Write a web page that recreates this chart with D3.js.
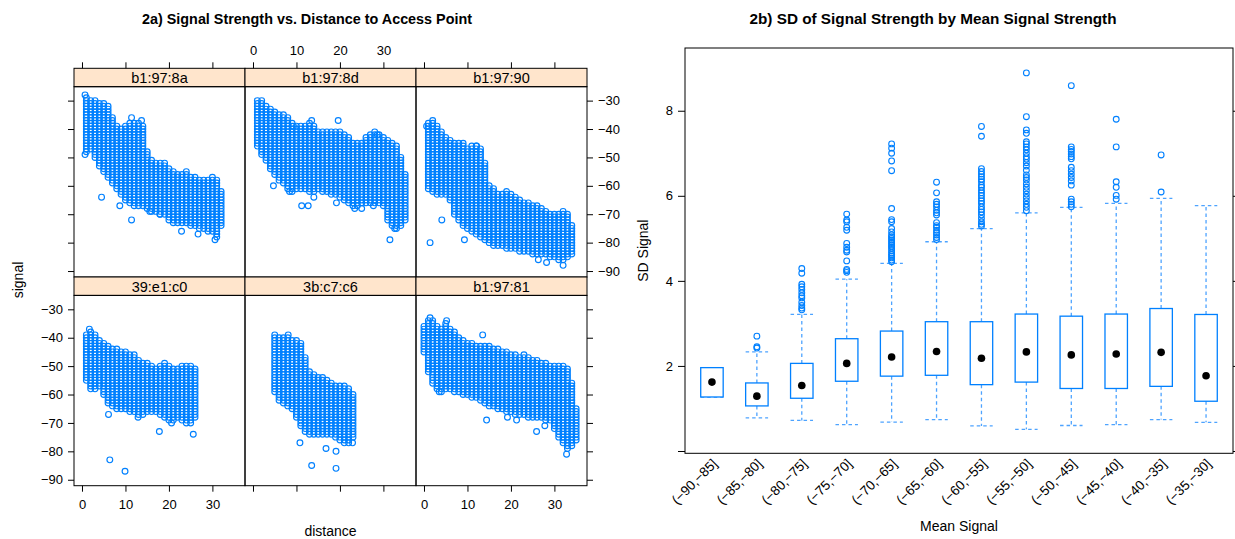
<!DOCTYPE html>
<html>
<head>
<meta charset="utf-8">
<script src="https://cdn.jsdelivr.net/npm/d3@7"></script>
<style>
  body { margin: 0; background: #fff; }
  svg { display: block; }
  text { font-family: "Liberation Sans", Arial, Helvetica, sans-serif; fill: #000; }
</style>
</head>
<body>
<svg id="fig" width="1235" height="539"></svg>
<script>
// ---------- 2a: signal vs distance, one panel per access point ----------
// Each access point: vertical runs of readings [distance, strongest dBm, weakest dBm]
// (signal is recorded in whole dBm) plus isolated readings [distance, dBm].
const macTop = ["b1:97:8a", "b1:97:8d", "b1:97:90"];
const macBottom = ["39:e1:c0", "3b:c7:c6", "b1:97:81"];

const runs_b1978a = [
  [1,-29,-48],[2,-30,-47],[3,-30,-50],[4,-31,-53],[5,-31,-55],[6,-32,-57],[7,-36,-59],
  [8,-39,-61],[9,-40,-63],[10,-39,-65],[11,-38,-66],[12,-38,-67],[13,-38,-67],[14,-39,-67],
  [15,-48,-68],[16,-51,-69],[17,-52,-69],[18,-52,-70],[19,-52,-70],[20,-54,-72],[21,-55,-73],
  [22,-56,-73],[23,-56,-73],[24,-55,-73],[25,-57,-74],[26,-57,-74],[27,-58,-75],[28,-58,-75],
  [29,-58,-76],[30,-57,-76],[31,-58,-78],[32,-62,-74]
];
const strays_b1978a = [
  [0.7,-28],[0.7,-49],[4.5,-64],[8.7,-67],[11.4,-72],[11.4,-36],[13.7,-37],[15.6,-69],
  [17.9,-70],[22.9,-76],[26.7,-77],[30.6,-79]
];

const runs_b1978d = [
  [1,-30,-46],[2,-30,-49],[3,-32,-51],[4,-33,-54],[5,-34,-56],[6,-35,-58],[7,-35,-59],
  [8,-36,-61],[9,-38,-62],[10,-39,-61],[11,-39,-61],[12,-39,-61],[13,-38,-62],[14,-39,-62],
  [15,-41,-61],[16,-41,-62],[17,-41,-62],[18,-41,-63],[19,-41,-63],[20,-41,-64],[21,-42,-65],
  [22,-43,-66],[23,-45,-67],[24,-45,-67],[25,-45,-66],[26,-43,-66],[27,-42,-66],[28,-41,-66],
  [29,-42,-66],[30,-43,-67],[31,-44,-72],[32,-45,-74],[33,-46,-75],[34,-50,-74],[35,-56,-72]
];
const strays_b1978d = [
  [4.7,-60],[8.4,-62],[11.2,-67],[12.7,-67],[14,-64],[19.6,-37],[19.2,-66],[23.4,-68],
  [25,-68],[27.7,-67],[31.5,-79],[32.6,-75],[28.6,-42],[13.5,-37],[9.3,-39]
];

const runs_b19790 = [
  [1,-38,-61],[2,-37,-62],[3,-39,-63],[4,-41,-63],[5,-43,-63],[6,-44,-65],[7,-45,-70],
  [8,-45,-72],[9,-45,-74],[10,-47,-75],[11,-46,-76],[12,-46,-77],[13,-47,-78],[14,-52,-79],
  [15,-60,-80],[16,-61,-81],[17,-63,-81],[18,-63,-81],[19,-62,-82],[20,-63,-82],[21,-64,-82],
  [22,-65,-83],[23,-66,-83],[24,-66,-83],[25,-67,-84],[26,-67,-84],[27,-68,-84],[28,-69,-84],
  [29,-70,-85],[30,-70,-85],[31,-70,-86],[32,-69,-86],[33,-70,-85],[34,-74,-84]
];
const strays_b19790 = [
  [1.4,-80],[4.1,-72],[9.3,-79],[26.3,-86],[28.2,-87],[32,-88],[12.1,-46],[0.6,-39]
];

const runs_39e1c0 = [
  [1,-39,-55],[2,-38,-58],[3,-39,-58],[4,-41,-57],[5,-42,-60],[6,-43,-63],[7,-44,-64],
  [8,-44,-65],[9,-45,-65],[10,-45,-65],[11,-46,-66],[12,-46,-66],[13,-48,-67],[14,-49,-67],
  [15,-49,-66],[16,-50,-66],[17,-51,-66],[18,-50,-67],[19,-49,-68],[20,-50,-69],[21,-51,-69],
  [22,-51,-68],[23,-50,-69],[24,-50,-70],[25,-50,-70],[26,-51,-68]
];
const strays_39e1c0 = [
  [1.7,-37],[6.1,-67],[6.4,-83],[9.9,-87],[12.9,-68],[17.8,-73],[20.6,-70],[25.6,-74]
];

const runs_3bc7c6 = [
  [5,-39,-59],[6,-40,-62],[7,-40,-63],[8,-40,-64],[9,-41,-65],[10,-41,-68],[11,-42,-71],
  [12,-47,-73],[13,-52,-74],[14,-53,-74],[15,-54,-74],[16,-54,-74],[17,-55,-74],[18,-56,-74],
  [19,-57,-75],[20,-57,-76],[21,-57,-77],[22,-58,-77],[23,-60,-75]
];
const strays_3bc7c6 = [
  [8.1,-39],[10.8,-77],[13.5,-85],[16.8,-79],[19.1,-86],[19.1,-80],[22.9,-77]
];

const runs_b19781 = [
  [0,-36,-45],[1,-34,-52],[2,-34,-56],[3,-36,-58],[4,-37,-59],[5,-35,-58],[6,-37,-58],
  [7,-38,-59],[8,-40,-59],[9,-41,-60],[10,-42,-60],[11,-42,-61],[12,-43,-61],[13,-43,-62],
  [14,-43,-63],[15,-43,-64],[16,-44,-64],[17,-44,-65],[18,-45,-65],[19,-45,-66],[20,-46,-66],
  [21,-46,-67],[22,-47,-67],[23,-46,-67],[24,-47,-68],[25,-48,-68],[26,-48,-68],[27,-49,-68],
  [28,-49,-69],[29,-50,-69],[30,-50,-72],[31,-50,-75],[32,-50,-77],[33,-51,-79],[34,-56,-78],
  [35,-65,-76]
];
const strays_b19781 = [
  [3.5,-59],[14.4,-69],[19.2,-68],[21.3,-69],[25.9,-73],[27.8,-71],[32.8,-81],[13.5,-39],
  [1.4,-33],[5.2,-34]
];

const distTicks = [0, 10, 20, 30];
const signalTicks = [-30, -40, -50, -60, -70, -80, -90];

// ---------- 2b: SD of signal by mean-signal bin ----------
const bins = ["(−90,−85]","(−85,−80]","(−80,−75]","(−75,−70]","(−70,−65]","(−65,−60]",
              "(−60,−55]","(−55,−50]","(−50,−45]","(−45,−40]","(−40,−35]","(−35,−30]"];
const sdLower = [1.27, 0.78, 0.72, 0.62, 0.68, 0.74, 0.59, 0.51, 0.60, 0.62, 0.74, 0.675];
const sdQ1    = [1.27, 1.06, 1.24, 1.64, 1.76, 1.78, 1.56, 1.62, 1.47, 1.47, 1.52, 1.17];
const sdMed   = [1.62, 1.29, 1.54, 2.06, 2.21, 2.34, 2.18, 2.33, 2.26, 2.28, 2.32, 1.77];
const sdQ3    = [1.96, 1.60, 2.06, 2.64, 2.82, 3.04, 3.04, 3.22, 3.17, 3.22, 3.35, 3.21];
const sdUpper = [1.96, 2.33, 3.21, 4.04, 4.41, 4.92, 5.23, 5.60, 5.73, 5.82, 5.94, 5.77];
const sdOutliers = [
  [],
  [2.42, 2.45, 2.70],
  [3.32, 3.36, 3.42, 3.50, 3.60, 3.65, 3.72, 3.80, 3.86, 3.92, 4.18, 4.29],
  [4.20, 4.24, 4.27, 4.47, 4.68, 4.72, 4.79, 4.88, 5.19, 5.26, 5.39, 5.43, 5.57],
  [4.45, 4.49, 4.54, 4.58, 4.62, 4.66, 4.71, 4.76, 4.80, 4.84, 4.88, 4.92, 4.96, 5.00, 5.04,
   5.08, 5.15, 5.23, 5.39, 5.44, 5.70, 6.59, 6.82, 7.00, 7.12, 7.22],
  [4.97, 5.02, 5.08, 5.13, 5.19, 5.26, 5.30, 5.37, 5.55, 5.60, 5.66, 5.74, 5.80, 5.86, 6.07, 6.32],
  [5.29, 5.33, 5.39, 5.47, 5.55, 5.62, 5.68, 5.74, 5.82, 5.88, 5.94, 6.01, 6.07, 6.13, 6.20,
   6.25, 6.33, 6.39, 6.45, 6.51, 6.57, 6.64, 7.40, 7.63],
  [5.65, 5.73, 5.80, 5.88, 5.96, 6.04, 6.12, 6.20, 6.28, 6.37, 6.43, 6.49, 6.60, 6.70, 6.78,
   6.86, 6.92, 7.00, 7.08, 7.15, 7.22, 7.27, 7.47, 7.55, 7.86, 8.89],
  [5.74, 5.80, 5.86, 5.92, 6.25, 6.35, 6.43, 6.51, 6.59, 6.67, 6.87, 6.92, 6.98, 7.04, 7.09,
   7.15, 8.59],
  [5.92, 6.01, 6.20, 6.33, 7.15, 7.80],
  [6.09, 6.96],
  []
];
const sdTicks = [0, 2, 4, 6, 8];

// ---------- drawing ----------
const BLUE = "#0080ff";
const svg = d3.select("#fig");

function expand(runs, strays) {
  const pts = [];
  runs.forEach(([d, hi, lo]) => { for (let s = hi; s >= lo; s--) pts.push([d, s]); });
  return pts.concat(strays);
}

const panelData = {
  "b1:97:8a": expand(runs_b1978a, strays_b1978a),
  "b1:97:8d": expand(runs_b1978d, strays_b1978d),
  "b1:97:90": expand(runs_b19790, strays_b19790),
  "39:e1:c0": expand(runs_39e1c0, strays_39e1c0),
  "3b:c7:c6": expand(runs_3bc7c6, strays_3bc7c6),
  "b1:97:81": expand(runs_b19781, strays_b19781)
};

// lattice grid geometry
const gridLeft = 74, panelW = 171, gridTop = 68.3, stripH = 18.4, panelH = 190.3;
const tick = 6;

svg.append("text").attr("x", 307).attr("y", 18).attr("text-anchor", "middle")
  .attr("dominant-baseline", "central").style("font-size", "15.5px").style("font-weight", "bold")
  .attr("textLength", 330).attr("lengthAdjust", "spacingAndGlyphs")
  .text("2a) Signal Strength vs. Distance to Access Point");

[macTop, macBottom].forEach((row, r) => {
  row.forEach((mac, c) => {
    const x0 = gridLeft + c * panelW;
    const sy0 = gridTop + r * (stripH + panelH);
    const py0 = sy0 + stripH;
    const x = d3.scaleLinear().domain([-1.84, 37.5]).range([x0, x0 + panelW]);
    const y = d3.scaleLinear().domain([-92.1, -25.1]).range([py0 + panelH, py0]);
    const g = svg.append("g");

    g.append("g").selectAll("circle").data(panelData[mac]).join("circle")
      .attr("cx", d => x(d[0])).attr("cy", d => y(d[1])).attr("r", 2.9)
      .attr("fill", "none").attr("stroke", BLUE).attr("stroke-width", 1.15);

    // strip
    g.append("rect").attr("x", x0).attr("y", sy0).attr("width", panelW).attr("height", stripH)
      .attr("fill", "#ffe5cc").attr("stroke", "#000").attr("stroke-width", 1);
    g.append("text").attr("x", x0 + panelW / 2).attr("y", sy0 + stripH / 2 + 0.5)
      .attr("text-anchor", "middle").attr("dominant-baseline", "central")
      .style("font-size", "14.5px").text(mac);
    // panel border
    g.append("rect").attr("x", x0).attr("y", py0).attr("width", panelW).attr("height", panelH)
      .attr("fill", "none").attr("stroke", "#000").attr("stroke-width", 1);

    const styleAxis = (ax, showLabels) => {
      ax.select(".domain").remove();
      ax.selectAll("line").attr("stroke", "#000");
      ax.selectAll("text").style("font-size", "13px").attr("fill", "#000");
      if (!showLabels) ax.selectAll("text").remove();
    };
    if (r === 0) {
      const ax = svg.append("g").attr("transform", `translate(0,${sy0})`)
        .call(d3.axisTop(x).tickValues(distTicks).tickSize(tick).tickPadding(7.5));
      styleAxis(ax, c === 1);
    } else {
      const ax = svg.append("g").attr("transform", `translate(0,${py0 + panelH})`)
        .call(d3.axisBottom(x).tickValues(distTicks).tickSize(tick).tickPadding(8.5));
      styleAxis(ax, c !== 1);
    }
    if (c === 0) {
      const ax = svg.append("g").attr("transform", `translate(${x0},0)`)
        .call(d3.axisLeft(y).tickValues(signalTicks).tickSize(tick).tickPadding(5));
      styleAxis(ax, r === 1);
    }
    if (c === 2) {
      const ax = svg.append("g").attr("transform", `translate(${x0 + panelW},0)`)
        .call(d3.axisRight(y).tickValues(signalTicks).tickSize(tick).tickPadding(5));
      styleAxis(ax, r === 0);
    }
  });
});

svg.append("text").attr("transform", `translate(18,${gridTop + stripH + panelH + 3})rotate(-90)`)
  .attr("text-anchor", "middle").attr("dominant-baseline", "central")
  .style("font-size", "14px").text("signal");
svg.append("text").attr("x", gridLeft + 1.5 * panelW).attr("y", 531)
  .attr("text-anchor", "middle").attr("dominant-baseline", "central")
  .style("font-size", "14px").text("distance");

// ---------- 2b boxplot ----------
const bLeft = 685, bRight = 1233, bTop = 48, bBottom = 453.3;
const bx = d3.scaleLinear().domain([0.4, 12.6]).range([bLeft, bRight]);
const by = d3.scaleLinear().domain([-0.054, 9.475]).range([bBottom, bTop]);
const halfW = (bx(1.5) - bx(1)) / 2;

svg.append("text").attr("x", 933).attr("y", 18).attr("text-anchor", "middle")
  .attr("dominant-baseline", "central").style("font-size", "15.5px").style("font-weight", "bold")
  .attr("textLength", 367).attr("lengthAdjust", "spacingAndGlyphs")
  .text("2b) SD of Signal Strength by Mean Signal Strength");

const bg = svg.append("g");
bins.forEach((b, i) => {
  const cx = bx(i + 1);
  const dash = "3.5,3";
  const wcol = "#4da3ff";
  // whiskers and caps
  [[sdQ3[i], sdUpper[i]], [sdQ1[i], sdLower[i]]].forEach(([a, e]) => {
    if (a !== e) {
      bg.append("line").attr("x1", cx).attr("x2", cx).attr("y1", by(a)).attr("y2", by(e))
        .attr("stroke", wcol).attr("stroke-width", 1.3).attr("stroke-dasharray", dash);
    }
    bg.append("line").attr("x1", cx - halfW).attr("x2", cx + halfW).attr("y1", by(e)).attr("y2", by(e))
      .attr("stroke", wcol).attr("stroke-width", 1.3).attr("stroke-dasharray", dash);
  });
  bg.append("rect").attr("x", cx - halfW).attr("width", 2 * halfW)
    .attr("y", by(sdQ3[i])).attr("height", by(sdQ1[i]) - by(sdQ3[i]))
    .attr("fill", "#fff").attr("stroke", BLUE).attr("stroke-width", 1.3);
  bg.append("circle").attr("cx", cx).attr("cy", by(sdMed[i])).attr("r", 3.8).attr("fill", "#000");
  bg.selectAll(null).data(sdOutliers[i]).join("circle")
    .attr("cx", cx).attr("cy", v => by(v)).attr("r", 2.9)
    .attr("fill", "none").attr("stroke", BLUE).attr("stroke-width", 1.1);
});

svg.append("rect").attr("x", bLeft).attr("y", bTop).attr("width", bRight - bLeft).attr("height", bBottom - bTop)
  .attr("fill", "none").attr("stroke", "#000").attr("stroke-width", 1);

const ayl = svg.append("g").attr("transform", `translate(${bLeft},0)`)
  .call(d3.axisLeft(by).tickValues(sdTicks).tickSize(7).tickPadding(5).tickFormat(v => v === 0 ? "" : v));
ayl.select(".domain").remove();
ayl.selectAll("line").attr("stroke", "#000");
ayl.selectAll("text").style("font-size", "13px").attr("fill", "#000");

const ayr = svg.append("g").attr("transform", `translate(${bRight},0)`)
  .call(d3.axisRight(by).tickValues(sdTicks).tickSize(7).tickFormat(""));
ayr.select(".domain").remove();
ayr.selectAll("line").attr("stroke", "#000");

svg.append("g").selectAll("text").data(bins).join("text")
  .attr("transform", (b, i) => `translate(${bx(i + 1) + 3},${bBottom + 8})rotate(-45)`)
  .attr("text-anchor", "end").attr("dominant-baseline", "central")
  .style("font-size", "13.5px").text(b => b);

svg.append("text").attr("transform", `translate(643,${(bTop + bBottom) / 2})rotate(-90)`)
  .attr("text-anchor", "middle").attr("dominant-baseline", "central")
  .style("font-size", "14px").text("SD Signal");
svg.append("text").attr("x", (bLeft + bRight) / 2).attr("y", 526)
  .attr("text-anchor", "middle").attr("dominant-baseline", "central")
  .style("font-size", "14px").text("Mean Signal");
</script>
</body>
</html>
